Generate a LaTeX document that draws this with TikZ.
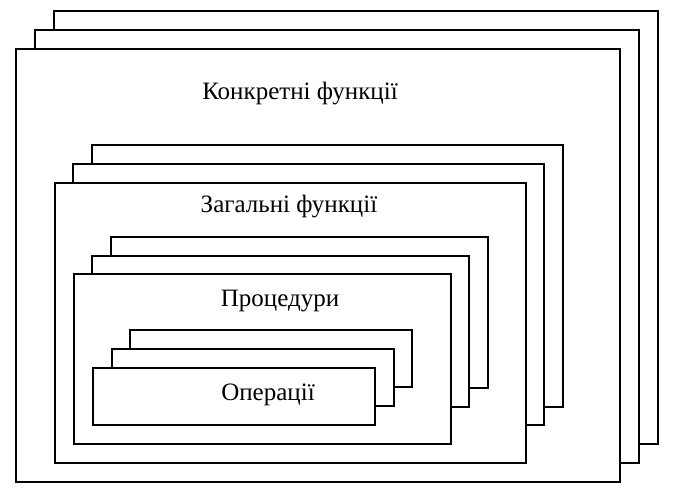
\documentclass[tikz,border=0pt]{standalone}
\usepackage{fontspec}
\setmainfont{Liberation Serif}
\begin{document}
\begin{tikzpicture}[x=1pt,y=-1pt,
  panel/.style={draw=black,fill=white,line width=1.6pt,line join=miter},
  label/.style={font=\fontsize{25}{29}\selectfont,anchor=base,inner sep=0pt}]
\useasboundingbox[fill=white] (0,0) rectangle (679,494);
% level 1
\draw[panel] (54,11) rectangle (658,444);
\draw[panel] (35,30) rectangle (639,463);
\draw[panel] (16,49) rectangle (620,482);
\node[label] (l1) at (300,100) {Конкретні функції};
% level 2
\draw[panel] (92,145) rectangle (563,407);
\draw[panel] (73,164) rectangle (544,425);
\draw[panel] (55,183) rectangle (526,463);
\node[label] (l2) at (289,212) {Загальні функції};
% level 3
\draw[panel] (111,237) rectangle (488,388);
\draw[panel] (92,256) rectangle (469,407);
\draw[panel] (74,274) rectangle (451,444);
\node[label] (l3) at (280,306) {Процедури};
% level 4
\draw[panel] (130,330) rectangle (412,387);
\draw[panel] (112,349) rectangle (394,406);
\draw[panel] (93,368) rectangle (375,425);
\node[label] (l4) at (268,400) {Операції};
\end{tikzpicture}
\end{document}
